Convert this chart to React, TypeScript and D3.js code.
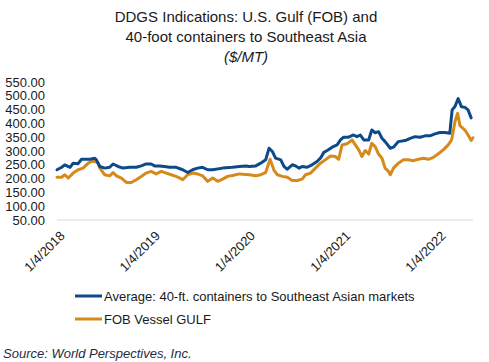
import React, { useEffect } from 'react';
import * as d3 from 'd3';

// Average: 40-ft. containers to Southeast Asian markets
const containerSeries: [string, number][] = [
  ['2018-01-04', 232], ['2018-01-22', 241], ['2018-02-03', 250], ['2018-02-23', 241],
  ['2018-03-07', 256], ['2018-03-26', 254], ['2018-04-08', 270], ['2018-04-27', 270],
  ['2018-05-10', 270], ['2018-05-29', 274], ['2018-06-04', 268], ['2018-06-17', 244],
  ['2018-07-06', 238], ['2018-07-25', 241], ['2018-08-07', 253], ['2018-08-26', 244],
  ['2018-09-14', 238], ['2018-10-10', 241], ['2018-11-04', 241], ['2018-11-23', 246],
  ['2018-12-12', 253], ['2018-12-31', 253], ['2019-01-13', 246], ['2019-02-01', 246],
  ['2019-02-20', 244], ['2019-03-11', 241], ['2019-04-06', 241], ['2019-05-01', 232],
  ['2019-05-20', 222], ['2019-06-08', 232], ['2019-06-27', 238], ['2019-07-16', 241],
  ['2019-08-05', 232], ['2019-08-24', 232], ['2019-10-01', 238], ['2019-11-08', 241],
  ['2019-12-04', 244], ['2019-12-29', 246], ['2020-01-11', 244], ['2020-02-05', 246],
  ['2020-02-24', 256], ['2020-03-14', 268], ['2020-03-27', 310], ['2020-04-09', 298],
  ['2020-04-21', 274], ['2020-05-11', 268], ['2020-05-23', 244], ['2020-06-05', 234],
  ['2020-06-24', 250], ['2020-07-07', 246], ['2020-07-20', 238], ['2020-08-01', 244],
  ['2020-08-20', 241], ['2020-09-08', 250], ['2020-09-27', 262], ['2020-10-10', 274],
  ['2020-10-23', 295], ['2020-11-05', 302], ['2020-11-24', 314], ['2020-12-13', 322],
  ['2020-12-26', 340], ['2021-01-07', 350], ['2021-01-26', 350], ['2021-02-14', 358],
  ['2021-02-27', 352], ['2021-03-12', 358], ['2021-03-25', 340], ['2021-04-13', 340],
  ['2021-04-25', 376], ['2021-05-08', 366], ['2021-05-21', 370], ['2021-06-03', 346],
  ['2021-06-15', 334], ['2021-07-05', 310], ['2021-07-17', 314], ['2021-08-05', 334],
  ['2021-08-31', 338], ['2021-09-19', 346], ['2021-10-08', 352], ['2021-10-27', 350],
  ['2021-11-15', 355], ['2021-12-04', 355], ['2021-12-23', 362], ['2022-01-11', 367],
  ['2022-01-30', 367], ['2022-02-18', 364], ['2022-02-27', 449], ['2022-03-10', 461],
  ['2022-03-22', 490], ['2022-04-04', 460], ['2022-04-17', 458], ['2022-04-29', 449],
  ['2022-05-11', 420],
];

// FOB Vessel GULF
const fobSeries: [string, number][] = [
  ['2018-01-04', 205], ['2018-01-22', 205], ['2018-02-03', 214], ['2018-02-16', 202],
  ['2018-03-07', 220], ['2018-03-26', 232], ['2018-04-14', 238], ['2018-05-04', 256],
  ['2018-05-16', 262], ['2018-05-29', 262], ['2018-06-11', 256], ['2018-06-17', 238],
  ['2018-07-06', 214], ['2018-07-25', 210], ['2018-08-07', 222], ['2018-08-20', 210],
  ['2018-09-08', 202], ['2018-09-27', 186], ['2018-10-16', 186], ['2018-11-04', 196],
  ['2018-11-23', 208], ['2018-12-12', 220], ['2018-12-31', 226], ['2019-01-19', 217],
  ['2019-02-08', 226], ['2019-02-27', 220], ['2019-03-18', 214], ['2019-04-06', 208],
  ['2019-05-01', 196], ['2019-05-20', 214], ['2019-06-08', 220], ['2019-06-27', 217],
  ['2019-07-16', 210], ['2019-08-05', 190], ['2019-08-24', 202], ['2019-09-12', 190],
  ['2019-10-01', 198], ['2019-10-20', 208], ['2019-11-08', 211], ['2019-12-04', 217],
  ['2020-01-11', 214], ['2020-02-05', 210], ['2020-02-24', 214], ['2020-03-14', 222],
  ['2020-03-31', 270], ['2020-04-15', 230], ['2020-04-28', 214], ['2020-05-17', 208],
  ['2020-06-05', 205], ['2020-06-24', 193], ['2020-07-13', 193], ['2020-08-01', 198],
  ['2020-08-14', 214], ['2020-09-02', 220], ['2020-09-21', 238], ['2020-10-10', 256],
  ['2020-10-29', 268], ['2020-11-17', 282], ['2020-12-06', 280], ['2020-12-19', 270],
  ['2021-01-01', 322], ['2021-01-20', 326], ['2021-02-08', 340], ['2021-02-21', 322],
  ['2021-03-06', 304], ['2021-03-18', 280], ['2021-03-31', 302], ['2021-04-13', 289],
  ['2021-04-25', 328], ['2021-05-08', 316], ['2021-05-21', 289], ['2021-06-03', 274],
  ['2021-06-15', 238], ['2021-06-28', 226], ['2021-07-05', 214], ['2021-07-17', 238],
  ['2021-08-05', 256], ['2021-08-24', 268], ['2021-09-12', 268], ['2021-10-02', 265],
  ['2021-10-21', 270], ['2021-11-09', 274], ['2021-11-28', 270], ['2021-12-17', 277],
  ['2022-01-05', 290], ['2022-01-24', 304], ['2022-02-12', 322], ['2022-02-25', 340],
  ['2022-03-10', 407], ['2022-03-20', 437], ['2022-03-29', 392], ['2022-04-17', 376],
  ['2022-04-29', 358], ['2022-05-11', 338], ['2022-05-18', 348],
];

const yTicks = [50, 100, 150, 200, 250, 300, 350, 400, 450, 500, 550];
const xTicks = ['2018-01-04', '2019-01-04', '2020-01-04', '2021-01-04', '2022-01-04'];

const seriesList = [
  { name: 'Average: 40-ft. containers to Southeast Asian markets', data: containerSeries, color: '#0d4a8a' },
  { name: 'FOB Vessel GULF', data: fobSeries, color: '#d68a1c' },
];

const parse = d3.timeParse('%Y-%m-%d');
const fmtTick = d3.timeFormat('%-m/%-d/%Y');

export default function App() {
  useEffect(() => {
    document.body.style.margin = '0';
  }, []);

  const width = 489;
  const height = 362;
  const margin = { top: 82, right: 16, bottom: 142, left: 57 };
  const font = '"Liberation Sans", Arial, sans-serif';

  const x = d3.scaleTime()
    .domain([parse('2018-01-04') as Date, parse('2022-05-18') as Date])
    .range([margin.left, width - margin.right]);

  const y = d3.scaleLinear()
    .domain([50, 550])
    .range([height - margin.bottom, margin.top]);

  const line = d3.line<[string, number]>()
    .x(d => x(parse(d[0]) as Date))
    .y(d => y(d[1]));

  return (
    <svg width={width} height={height} style={{ display: 'block', background: '#fff' }} fontFamily={font}>
      <g textAnchor="middle" fill="#1a1a1a" fontSize={15}>
        <text x={246} y={22}>DDGS Indications: U.S. Gulf (FOB) and</text>
        <text x={246} y={42}>40-foot containers to Southeast Asia</text>
        <text x={246} y={62} fontStyle="italic">($/MT)</text>
      </g>

      <line x1={margin.left} x2={width - margin.right} y1={y(50)} y2={y(50)} stroke="#d9d9d9" strokeWidth={1} />

      <g fontSize={13} fill="#1a1a1a" textAnchor="end">
        {yTicks.map(t => (
          <text key={t} x={45} y={y(t)} dy="0.36em">{t.toFixed(2)}</text>
        ))}
      </g>

      <g fontSize={13} fill="#1a1a1a" textAnchor="end">
        {xTicks.map(t => {
          const px = x(parse(t) as Date);
          return (
            <text key={t} transform={`translate(${px + 4},${y(50) + 12}) rotate(-45)`} dy="0.5em">{fmtTick(parse(t) as Date)}</text>
          );
        })}
      </g>

      <g fill="none" strokeWidth={3} strokeLinejoin="round" strokeLinecap="round">
        {seriesList.map(s => (
          <path key={s.name} d={line(s.data) || ''} stroke={s.color} />
        )).reverse()}
      </g>

      <g fontSize={13} fill="#1a1a1a">
        {seriesList.map((s, i) => (
          <g key={s.name} transform={`translate(75,${296 + i * 23})`}>
            <line x1={0} x2={27} y1={0} y2={0} stroke={s.color} strokeWidth={3} />
            <text x={29} y={0} dy="0.36em">{s.name}</text>
          </g>
        ))}
      </g>

      <text x={3} y={353} dy="0.36em" fontSize={13} fontStyle="italic" fill="#1f2a44">Source: World Perspectives, Inc.</text>
    </svg>
  );
}
